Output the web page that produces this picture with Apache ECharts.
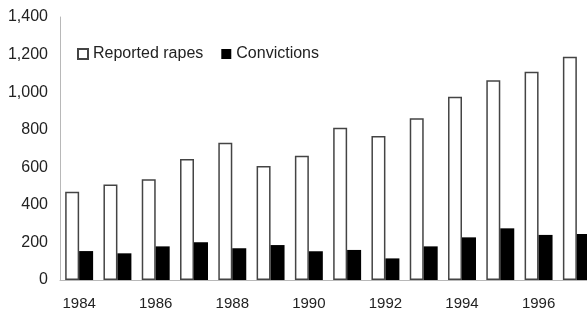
<!DOCTYPE html>
<html>
<head>
<meta charset="utf-8">
<script src="https://cdn.jsdelivr.net/npm/echarts@6/dist/echarts.min.js"></script>
<style>
  html, body { margin: 0; padding: 0; background: #fff; overflow: hidden; }
  /* the source plot runs past the right edge, so the canvas is a bit wider than the window */
  #chart { width: 596px; height: 312px; }
</style>
</head>
<body>
<div id="chart"></div>
<script>
// years shown on the x axis (last one is cut at the right edge)
const years = ['1984', '1985', '1986', '1987', '1988', '1989', '1990',
               '1991', '1992', '1993', '1994', '1995', '1996', '1997'];
// reported rapes (white bars)
const reported = [470, 509, 536, 644, 731, 607, 662, 811, 767, 861, 976, 1063, 1109, 1189];
// convictions (black bars)
const convictions = [154, 142, 179, 201, 169, 186, 153, 160, 115, 179, 227, 275, 240, 245];

const chart = echarts.init(document.getElementById('chart'), null, { renderer: 'canvas' });

const font = 'Liberation Sans, Arial, sans-serif';
const axisGray = '#b8b8b8';

chart.setOption({
    animation: false,
    backgroundColor: '#fff',
    textStyle: { fontFamily: font },
    grid: {
        left: 60,
        right: 0,
        top: 17,
        bottom: 32
    },
    legend: {
        left: 72,
        top: 41,
        itemWidth: 10,
        itemHeight: 10,
        itemGap: 18,
        icon: 'rect',
        textStyle: { fontSize: 16, color: '#222', fontFamily: font },
        data: ['Reported rapes', 'Convictions']
    },
    xAxis: {
        type: 'category',
        data: years,
        axisLine: { lineStyle: { color: axisGray, width: 1 } },
        axisTick: { interval: 0, length: 5, lineStyle: { color: axisGray } },
        axisLabel: {
            interval: 1,
            margin: 16,
            fontSize: 15,
            color: '#222',
            fontFamily: font
        }
    },
    yAxis: {
        type: 'value',
        min: 0,
        max: 1400,
        interval: 200,
        axisLine: { show: true, lineStyle: { color: axisGray, width: 1 } },
        axisTick: { show: false },
        splitLine: { show: false },
        axisLabel: {
            margin: 12,
            fontSize: 16,
            color: '#222',
            fontFamily: font,
            formatter: v => v.toLocaleString('en-US')
        }
    },
    series: [
        {
            name: 'Reported rapes',
            type: 'bar',
            data: reported,
            barGap: '0%',
            barCategoryGap: '27%',
            itemStyle: { color: '#fff', borderColor: '#444', borderWidth: 1.5 }
        },
        {
            name: 'Convictions',
            type: 'bar',
            data: convictions,
            itemStyle: { color: '#000' }
        }
    ]
});
</script>
</body>
</html>
